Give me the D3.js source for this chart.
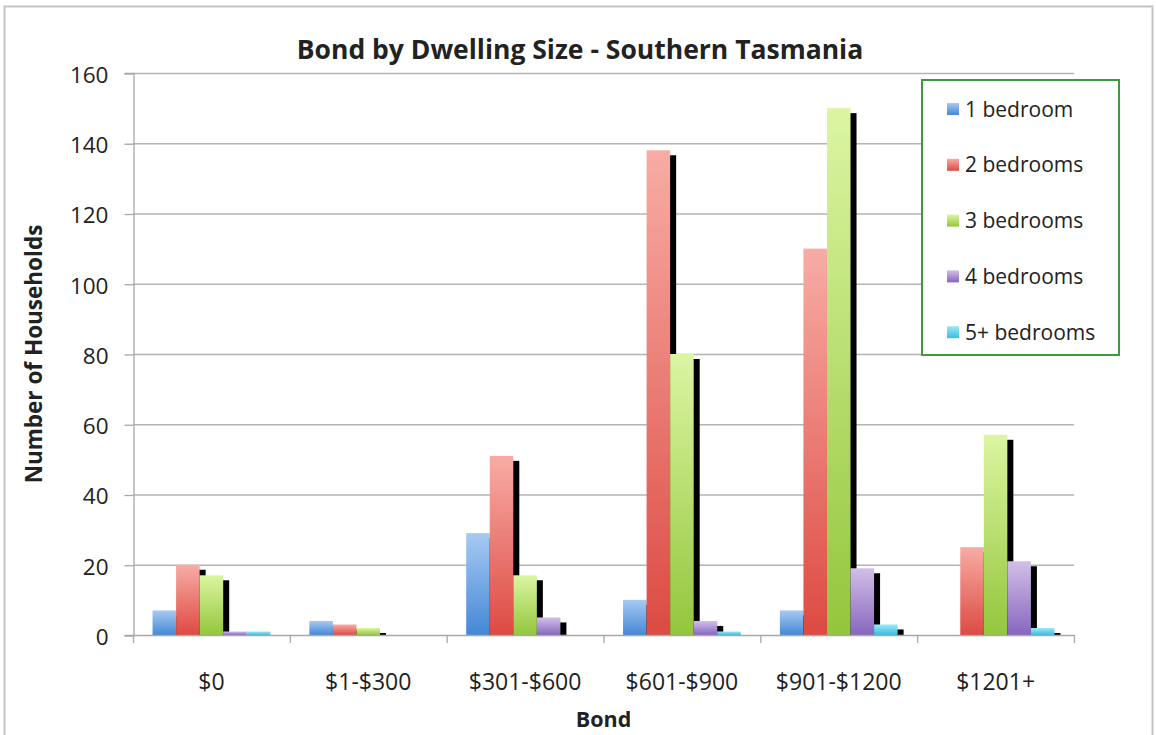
<!DOCTYPE html>
<html>
<head>
<meta charset="utf-8">
<script src="https://cdn.jsdelivr.net/npm/d3@7"></script>
<style>
  html, body { margin: 0; padding: 0; background: #fff; }
  svg { display: block; }
  text { font-family: "Open Sans", Lato, sans-serif; fill: #222; }
</style>
</head>
<body>
<svg id="chart" width="1156" height="735"></svg>
<script>
// Bond categories (x axis)
const categories = ["$0", "$1-$300", "$301-$600", "$601-$900", "$901-$1200", "$1201+"];
// Dwelling size series
const seriesNames = ["1 bedroom", "2 bedrooms", "3 bedrooms", "4 bedrooms", "5+ bedrooms"];
// Households per bond band, one array per dwelling size
const oneBed   = [7, 4, 29, 10, 7, 0];
const twoBed   = [20, 3, 51, 138, 110, 25];
const threeBed = [17, 2, 17, 80, 150, 57];
const fourBed  = [1, 0, 5, 4, 19, 21];
const fivePlus = [1, 0, 0, 1, 3, 2];
const yTicks = [0, 20, 40, 60, 80, 100, 120, 140, 160];

const seriesValues = [oneBed, twoBed, threeBed, fourBed, fivePlus];
// top / bottom gradient stops per series
const seriesColors = [
  ["#a6caf2", "#4587d6"],
  ["#f7aca5", "#dd4a42"],
  ["#dcf5a2", "#93c63c"],
  ["#d2bfe8", "#8766bf"],
  ["#a0e8f8", "#35bddf"]
];

const svg = d3.select("#chart");
const plot = { left: 133, right: 1074, top: 73, bottom: 635 };
const FONT = "'Open Sans', Lato, sans-serif";

// outer frame
svg.append("rect")
  .attr("x", 4.5).attr("y", 6.5)
  .attr("width", 1148).attr("height", 740)
  .attr("fill", "#fff").attr("stroke", "#c4c4c4").attr("stroke-width", 2);

const defs = svg.append("defs");
seriesColors.forEach((c, i) => {
  const g = defs.append("linearGradient")
    .attr("id", "grad" + i)
    .attr("x1", 0).attr("y1", 0).attr("x2", 0).attr("y2", 1);
  g.append("stop").attr("offset", "0%").attr("stop-color", c[0]);
  g.append("stop").attr("offset", "100%").attr("stop-color", c[1]);
});

const x0 = d3.scaleBand().domain(categories).range([plot.left, plot.right]).paddingInner(0).paddingOuter(0);
const x1 = d3.scaleBand().domain(d3.range(seriesNames.length)).range([0, x0.bandwidth()])
  .paddingInner(0).paddingOuter(0.83);
const y = d3.scaleLinear().domain([0, 160]).range([plot.bottom, plot.top]);

// gridlines
svg.append("g").selectAll("line").data(yTicks.filter(d => d > 0)).join("line")
  .attr("x1", plot.left).attr("x2", plot.right)
  .attr("y1", d => y(d) + 0.5).attr("y2", d => y(d) + 0.5)
  .attr("stroke", "#b4b4b4").attr("stroke-width", 1.3);

// y axis
const yAxis = svg.append("g")
  .attr("transform", `translate(${plot.left + 0.5},0)`)
  .call(d3.axisLeft(y).tickValues(yTicks).tickSize(9).tickPadding(16));
yAxis.select(".domain").attr("stroke", "#a8a8a8").attr("stroke-width", 1.3);
yAxis.selectAll(".tick line").attr("stroke", "#a8a8a8").attr("stroke-width", 1.3)
  .attr("transform", "translate(0,0.5)");
yAxis.selectAll(".tick text")
  .attr("font-family", FONT).attr("font-size", 22.5).attr("fill", "#222")
  .attr("dy", "0.42em");

// bars: a dark offset shadow is laid down first, then the bars on top
const flat = [];
categories.forEach((cat, ci) => {
  seriesValues.forEach((vals, si) => flat.push({ cat, si, v: vals[ci] }));
});

const shadowDx = 6, shadowDy = 5;
svg.append("g").selectAll("rect").data(flat.filter(d => d.v > 0)).join("rect")
  .attr("x", d => x0(d.cat) + x1(d.si) + shadowDx)
  .attr("y", d => Math.min(y(d.v) + shadowDy, y(0)))
  .attr("width", x1.bandwidth())
  .attr("height", d => Math.max(0, y(0) - y(d.v) - shadowDy))
  .attr("fill", "#000");

svg.append("g").selectAll("rect").data(flat.filter(d => d.v > 0)).join("rect")
  .attr("x", d => x0(d.cat) + x1(d.si))
  .attr("y", d => y(d.v))
  .attr("width", x1.bandwidth())
  .attr("height", d => y(0) - y(d.v))
  .attr("fill", d => `url(#grad${d.si})`);

// x axis baseline and tick marks at band boundaries
svg.append("line")
  .attr("x1", plot.left).attr("x2", plot.right)
  .attr("y1", plot.bottom + 0.5).attr("y2", plot.bottom + 0.5)
  .attr("stroke", "#a8a8a8").attr("stroke-width", 1.3);
const bounds = categories.map(c => x0(c)).concat([plot.right]);
svg.append("g").selectAll("line").data(bounds).join("line")
  .attr("x1", d => d + 0.5).attr("x2", d => d + 0.5)
  .attr("y1", plot.bottom).attr("y2", plot.bottom + 8)
  .attr("stroke", "#a8a8a8").attr("stroke-width", 1.3);
svg.append("g").selectAll("text").data(categories).join("text")
  .attr("x", d => x0(d) + x0.bandwidth() / 2)
  .attr("y", 690)
  .attr("text-anchor", "middle")
  .attr("font-size", 23)
  .text(d => d);

// titles
svg.append("text")
  .attr("x", 580).attr("y", 59)
  .attr("text-anchor", "middle")
  .attr("font-size", 26.5).attr("font-weight", "bold")
  .text("Bond by Dwelling Size - Southern Tasmania");
svg.append("text")
  .attr("x", (plot.left + plot.right) / 2).attr("y", 727)
  .attr("text-anchor", "middle")
  .attr("font-size", 21.5).attr("font-weight", "bold")
  .text("Bond");
svg.append("text")
  .attr("transform", `translate(42,${(plot.top + plot.bottom) / 2}) rotate(-90)`)
  .attr("text-anchor", "middle")
  .attr("font-size", 22.5).attr("font-weight", "bold")
  .text("Number of Households");

// legend
const legend = svg.append("g");
legend.append("rect")
  .attr("x", 922).attr("y", 80).attr("width", 197).attr("height", 275)
  .attr("fill", "#fff").attr("stroke", "#3e9a3e").attr("stroke-width", 2);
const rows = legend.selectAll("g.item").data(seriesNames).join("g")
  .attr("class", "item")
  .attr("transform", (d, i) => `translate(0,${109 + i * 55.8})`);
rows.append("rect")
  .attr("x", 947).attr("y", -6).attr("width", 12).attr("height", 12)
  .attr("fill", (d, i) => `url(#grad${i})`);
rows.append("text")
  .attr("x", 965).attr("y", 7.5)
  .attr("font-size", 21)
  .text(d => d);
</script>
</body>
</html>
